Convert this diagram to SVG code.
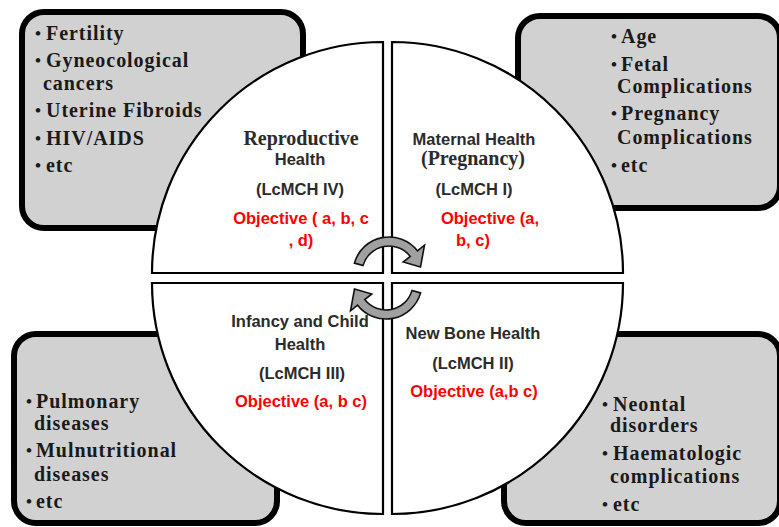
<svg xmlns="http://www.w3.org/2000/svg" width="779" height="527" viewBox="0 0 779 527">
<style>
.box{fill:#d1d1d1;stroke:#000;stroke-width:6}
.quad{fill:#fff;stroke:#000;stroke-width:2.2}
.bt{font-family:"Liberation Serif",serif;font-weight:bold;font-size:20px;fill:#1a1a1a;letter-spacing:0.95px}
.bu{font-family:"Liberation Serif",serif;font-weight:bold;font-size:17px;fill:#1a1a1a}
.qs{font-family:"Liberation Sans",Arial,sans-serif;font-weight:bold;font-size:16.5px;fill:#2b2b2b;text-anchor:middle}
.qr{font-family:"Liberation Serif",serif;font-weight:bold;font-size:20px;fill:#2b2b2b;text-anchor:middle}
.red{font-family:"Liberation Sans",Arial,sans-serif;font-weight:bold;font-size:16.5px;fill:#ff0000;text-anchor:middle}
.arr{fill:#a0a0a0;stroke:#111;stroke-width:1.6;stroke-linejoin:miter}
</style>
<rect width="779" height="527" fill="#fff"/>

<g id="box-reproductive">
<rect class="box" x="22" y="12" width="281" height="216" rx="22"/>
<text class="bu" x="35" y="39">•</text><text class="bt" x="46" y="40">Fertility</text>
<text class="bu" x="35" y="66">•</text><text class="bt" x="46" y="67">Gyneocological</text>
<text class="bt" x="43" y="90">cancers</text>
<text class="bu" x="35" y="116">•</text><text class="bt" x="46" y="117">Uterine Fibroids</text>
<text class="bu" x="35" y="144">•</text><text class="bt" x="46" y="145">HIV/AIDS</text>
<text class="bu" x="35" y="171">•</text><text class="bt" x="46" y="172">etc</text>
</g>

<g id="box-maternal">
<rect class="box" x="518" y="16" width="262" height="192" rx="22"/>
<text class="bu" x="611" y="42">•</text><text class="bt" x="621" y="43">Age</text>
<text class="bu" x="611" y="70">•</text><text class="bt" x="621" y="71">Fetal</text>
<text class="bt" x="617" y="93">Complications</text>
<text class="bu" x="611" y="119">•</text><text class="bt" x="621" y="120">Pregnancy</text>
<text class="bt" x="617" y="144">Complications</text>
<text class="bu" x="611" y="171">•</text><text class="bt" x="621" y="172">etc</text>
</g>

<g id="box-infancy">
<rect class="box" x="14" y="334" width="263" height="189" rx="22"/>
<text class="bu" x="26" y="407">•</text><text class="bt" x="36" y="408">Pulmonary</text>
<text class="bt" x="34" y="430">diseases</text>
<text class="bu" x="26" y="456">•</text><text class="bt" x="36" y="457">Mulnutritional</text>
<text class="bt" x="34" y="481">diseases</text>
<text class="bu" x="26" y="507">•</text><text class="bt" x="36" y="508">etc</text>
</g>

<g id="box-newborn">
<rect class="box" x="504" y="334" width="276" height="189" rx="22"/>
<text class="bu" x="602" y="410">•</text><text class="bt" x="613" y="411">Neontal</text>
<text class="bt" x="610" y="432">disorders</text>
<text class="bu" x="602" y="459">•</text><text class="bt" x="613" y="460">Haematologic</text>
<text class="bt" x="610" y="483">complications</text>
<text class="bu" x="602" y="510">•</text><text class="bt" x="613" y="511">etc</text>
</g>

<g id="quad-reproductive">
<path class="quad" d="M383,273 L152,273 A231,231 0 0 1 383,42 Z"/>
<text class="qr" x="301" y="145">Reproductive</text>
<text class="qs" x="300" y="165">Health</text>
<text class="qs" x="300" y="195">(LcMCH IV)</text>
<text class="red" x="301" y="224">Objective ( a, b, c</text>
<text class="red" x="301" y="246">, d)</text>
</g>

<g id="quad-maternal">
<path class="quad" d="M392,273 L392,42 A231,231 0 0 1 623,273 Z"/>
<text class="qs" x="474" y="145">Maternal Health</text>
<text class="qr" x="473" y="165">(Pregnancy)</text>
<text class="qs" x="474" y="195">(LcMCH I)</text>
<text class="red" x="490" y="224">Objective (a,</text>
<text class="red" x="473" y="246">b, c)</text>
</g>

<g id="quad-newborn">
<path class="quad" d="M392,283 L623,283 A231,231 0 0 1 392,514 Z"/>
<text class="qs" x="473" y="339">New Bone Health</text>
<text class="qs" x="473" y="369">(LcMCH II)</text>
<text class="red" x="474" y="397">Objective (a,b c)</text>
</g>

<g id="quad-infancy">
<path class="quad" d="M383,283 L383,514 A231,231 0 0 1 152,283 Z"/>
<text class="qs" x="300" y="327">Infancy and Child</text>
<text class="qs" x="300" y="350">Health</text>
<text class="qs" x="302" y="379">(LcMCH III)</text>
<text class="red" x="301" y="407">Objective (a, b c)</text>
</g>

<g id="connectors">
<path id="arrow-top" class="arr" d="M354.4,263.1 A36,36 0 0 1 417.4,250.8 L424.5,245.2 L420.5,267 L403.2,262 L410.3,256.4 A27,27 0 0 0 363.0,265.6 Z"/>
<path id="arrow-bottom" class="arr" transform="rotate(180 387.5 278)" d="M354.4,263.1 A36,36 0 0 1 417.4,250.8 L424.5,245.2 L420.5,267 L403.2,262 L410.3,256.4 A27,27 0 0 0 363.0,265.6 Z"/>
</g>
</svg>
